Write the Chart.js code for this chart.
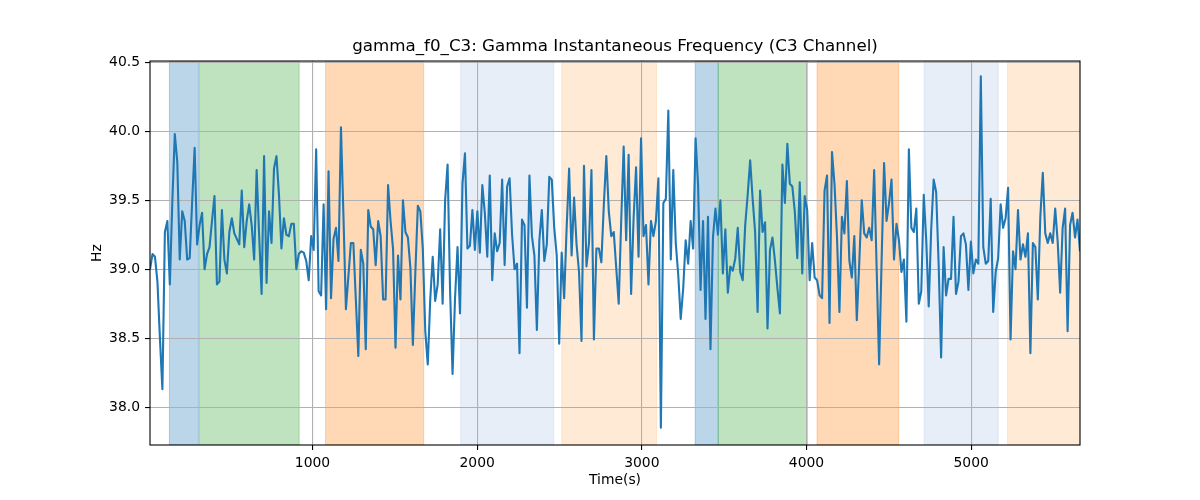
<!DOCTYPE html>
<html>
<head>
    <title>gamma_f0_C3</title>
    <script src="https://cdn.jsdelivr.net/npm/chart.js"></script>
    <style>
        body {
            margin: 0;
            background: white;
        }
    </style>
</head>
<body>
    <canvas id="freqChart" width="1200" height="500"></canvas>

    <script>
        // sample times run evenly from tStart to tEnd (s)
        const tStart = 13;
        const tEnd = 5661;

        const freqHz = [
            39.00, 39.11, 39.09, 38.91, 38.50, 38.13, 39.27, 39.35, 38.89, 39.49,
            39.98, 39.78, 39.07, 39.42, 39.35, 39.07, 39.08, 39.49, 39.88, 39.18,
            39.32, 39.41, 39.00, 39.11, 39.16, 39.35, 39.53, 38.89, 38.91, 39.43,
            39.07, 38.97, 39.27, 39.37, 39.26, 39.22, 39.18, 39.57, 39.16, 39.35,
            39.47, 39.32, 39.07, 39.72, 39.25, 38.82, 39.82, 38.90,

            39.42, 39.19, 39.73, 39.82, 39.54, 39.15, 39.37, 39.25, 39.24, 39.33,
            39.33, 39.00, 39.11, 39.13, 39.12, 39.06, 38.92, 39.24, 39.14, 39.87,
            38.84, 38.81, 39.47, 38.71, 39.71, 38.79, 39.22, 39.30, 39.06, 40.03,
            39.39, 38.71, 38.95, 39.19, 39.19, 38.78, 38.37, 39.14, 39.04, 38.42,
            39.43, 39.31, 39.29, 39.03, 39.35, 39.24, 38.78, 38.78,

            39.61, 39.35, 39.15, 38.43, 39.10, 38.78, 39.50, 39.27, 39.23, 39.01,
            38.45, 38.98, 39.46, 39.42, 39.15, 38.55, 38.31, 38.78, 39.09, 38.77,
            38.89, 39.29, 38.75, 39.50, 39.76, 38.85, 38.24, 38.79, 39.16, 38.68,
            39.62, 39.84, 39.15, 39.17, 39.43, 39.14, 39.42, 39.12, 39.61, 39.41,
            39.09, 39.68, 38.92, 39.26, 39.13, 39.19, 39.65,

            39.03, 39.60, 39.66, 39.25, 39.00, 39.04, 38.39, 39.36, 39.32, 38.72,
            39.68, 39.24, 39.10, 38.56, 39.21, 39.43, 39.06, 39.18, 39.67, 39.65,
            39.30, 39.10, 38.46, 39.12, 38.79, 39.30, 39.73, 39.10, 39.52, 39.18,
            38.98, 38.48, 39.75, 39.02, 39.19, 39.72, 38.49, 39.15, 39.15, 39.05,
            39.47, 39.82, 39.42, 39.24, 39.27, 39.01, 38.75, 39.35,

            39.89, 39.21, 39.83, 38.82, 39.37, 39.74, 39.09, 39.95, 39.24, 39.32,
            38.89, 39.35, 39.24, 39.35, 39.66, 37.85, 39.48, 39.51, 40.15, 39.07,
            39.72, 39.19, 38.96, 38.64, 38.86, 39.21, 39.04, 39.35, 39.15, 39.95,
            39.61, 38.85, 39.35, 38.64, 39.38, 38.42, 39.23, 39.44, 39.25, 39.50,
            38.97, 39.29, 38.83, 39.02, 38.99, 39.08, 39.30,

            38.98, 38.92, 39.32, 39.54, 39.79, 39.51, 39.27, 38.69, 39.57, 39.27,
            39.34, 38.57, 39.14, 39.23, 39.06, 38.86, 38.68, 39.76, 39.48, 39.91,
            39.62, 39.60, 39.42, 39.08, 39.63, 38.97, 39.53, 39.43, 38.92, 39.19,
            38.94, 38.92, 38.81, 38.79, 39.57, 39.68, 38.61, 39.85, 39.62, 39.24,
            38.69, 39.38, 39.26, 39.64, 39.06, 38.94, 39.24, 38.63, 39.05,

            39.50, 39.26, 39.23, 39.30, 39.21, 39.72, 39.01, 38.31, 39.06, 39.77,
            39.35, 39.48, 39.65, 39.07, 39.33, 39.21, 38.98, 39.07, 38.62, 39.87,
            39.30, 39.27, 39.44, 38.75, 38.84, 39.54, 39.21, 38.73, 39.29, 39.65,
            39.56, 39.04, 38.36, 39.16, 38.81, 38.93, 38.93, 39.38, 38.82, 38.91,
            39.24, 39.26, 39.18, 38.85, 39.20, 38.97, 39.07,

            39.04, 40.40, 39.16, 39.04, 39.06, 39.51, 38.69, 38.98, 39.08, 39.47,
            39.30, 39.37, 39.59, 38.49, 39.13, 39.00, 39.43, 39.07, 39.18, 39.09,
            39.26, 38.39, 39.19, 39.16, 38.78, 39.38, 39.70, 39.26, 39.19, 39.26,
            39.19, 39.44, 39.20, 38.83, 39.30, 39.44, 38.55, 39.32, 39.41, 39.23,
            39.36, 39.13
        ];

        // shaded event windows
        const spanStarts = [131, 313, 1079, 1900, 2514, 3324, 3464, 4064, 4714, 5221];
        const spanEnds   = [307, 919, 1675, 2465, 3089, 3464, 4005, 4560, 5164, 5661];
        const spanColors = ['#1f77b4', '#2ca02c', '#ff7f0e', '#aec7e8', '#ffbb78',
                            '#1f77b4', '#2ca02c', '#ff7f0e', '#aec7e8', '#ffbb78'];

        const xTicks = [1000, 2000, 3000, 4000, 5000];
        const yTicks = [38.0, 38.5, 39.0, 39.5, 40.0, 40.5];
        const yMin = 37.725;
        const yMax = 40.51;

        const step = (tEnd - tStart) / (freqHz.length - 1);
        const points = freqHz.map((v, i) => ({ x: tStart + i * step, y: v }));

        const spanPlugin = {
            id: 'spans',
            beforeDraw(chart) {
                const { ctx, chartArea: a, scales: { x } } = chart;
                ctx.save();
                ctx.fillStyle = 'white';
                ctx.fillRect(0, 0, chart.width, chart.height);
                ctx.beginPath();
                ctx.rect(a.left, a.top, a.right - a.left, a.bottom - a.top);
                ctx.clip();
                ctx.globalAlpha = 0.3;
                ctx.lineWidth = 1;
                spanStarts.forEach((s, i) => {
                    const x0 = x.getPixelForValue(s);
                    const x1 = x.getPixelForValue(spanEnds[i]);
                    ctx.fillStyle = spanColors[i];
                    ctx.strokeStyle = spanColors[i];
                    ctx.fillRect(x0, a.top, x1 - x0, a.bottom - a.top);
                    ctx.strokeRect(x0, a.top, x1 - x0, a.bottom - a.top);
                });
                ctx.restore();
            },
            afterDraw(chart) {
                const { ctx, chartArea: a } = chart;
                ctx.save();
                ctx.strokeStyle = 'black';
                ctx.lineWidth = 1.1;
                ctx.strokeRect(a.left, a.top, a.right - a.left, a.bottom - a.top);
                ctx.restore();
            }
        };

        Chart.defaults.font.family = 'DejaVu Sans';
        Chart.defaults.font.size = 13.9;
        Chart.defaults.color = '#000';

        const ctx = document.getElementById('freqChart').getContext('2d');
        new Chart(ctx, {
            type: 'line',
            data: {
                datasets: [{
                    data: points,
                    borderColor: '#1f77b4',
                    borderWidth: 2.1,
                    pointRadius: 0,
                    tension: 0,
                    fill: false,
                    borderJoinStyle: 'round'
                }]
            },
            options: {
                responsive: false,
                animation: false,
                devicePixelRatio: 1,
                layout: {
                    padding: { left: 86, right: 120, top: 31, bottom: 10 }
                },
                plugins: {
                    legend: { display: false },
                    tooltip: { enabled: false },
                    title: {
                        display: true,
                        text: 'gamma_f0_C3: Gamma Instantaneous Frequency (C3 Channel)',
                        fullSize: false,
                        font: { size: 16.7, weight: 'normal' },
                        padding: { top: 6, bottom: 4 }
                    }
                },
                scales: {
                    x: {
                        type: 'linear',
                        min: tStart,
                        max: tEnd,
                        afterBuildTicks: scale => { scale.ticks = xTicks.map(v => ({ value: v })); },
                        afterFit: scale => { scale.height = 45; },
                        ticks: {
                            padding: 5,
                            maxRotation: 0,
                            callback: v => String(v)
                        },
                        grid: {
                            color: '#b0b0b0',
                            lineWidth: 1.1,
                            tickColor: '#000',
                            tickLength: 5
                        },
                        border: { display: false },
                        title: {
                            display: true,
                            text: 'Time(s)',
                            padding: { top: 2, bottom: 1 }
                        }
                    },
                    y: {
                        min: yMin,
                        max: yMax,
                        afterBuildTicks: scale => { scale.ticks = yTicks.map(v => ({ value: v })); },
                        afterFit: scale => { scale.width = 64; },
                        ticks: {
                            padding: 5,
                            callback: v => v.toFixed(1)
                        },
                        grid: {
                            color: '#b0b0b0',
                            lineWidth: 1.1,
                            tickColor: '#000',
                            tickLength: 5
                        },
                        border: { display: false },
                        title: {
                            display: true,
                            text: 'Hz',
                            padding: { top: 3, bottom: 2 }
                        }
                    }
                }
            },
            plugins: [spanPlugin]
        });
    </script>
</body>
</html>
